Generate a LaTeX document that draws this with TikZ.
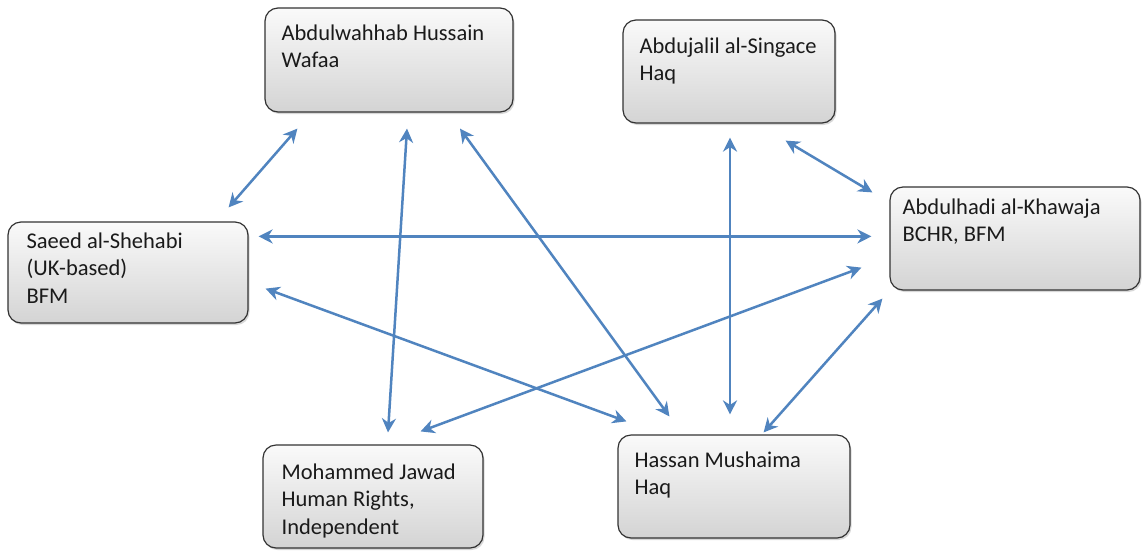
\documentclass[tikz,border=0pt]{standalone}
\usepackage{fontspec}
\setmainfont{Carlito}
\usetikzlibrary{arrows.meta,shadows}
\definecolor{arrowblue}{HTML}{5084BF}
\definecolor{txtcol}{HTML}{1A1A1A}
\begin{document}
\begin{tikzpicture}[x=1pt,y=-1pt,
  person/.style={draw=black!80, line width=1.2pt, rounded corners=13pt,
    top color=black!2, bottom color=black!17, inner sep=0pt,
    drop shadow={shadow xshift=1.5pt, shadow yshift=-2pt, opacity=0.3}},
  ptext/.style={anchor=north west, inner sep=0pt, align=left, text=txtcol,
    font=\fontsize{22.5pt}{27.5pt}\selectfont},
  link/.style={draw=arrowblue, line width=2.5pt,
    {Stealth[length=14pt,width=14pt,inset=4.5pt]}-{Stealth[length=14pt,width=14pt,inset=4.5pt]}}
]
\useasboundingbox (0,0) rectangle (1142,550);
\fill[white] (0,0) rectangle (1142,550);

% boxes
\node[person, minimum width=248pt, minimum height=104pt] (wafaa) at (389,60) {};
\node[person, minimum width=212pt, minimum height=103pt] (haq) at (729,71.5) {};
\node[person, minimum width=240pt, minimum height=101pt] (shehabi) at (128,272.5) {};
\node[person, minimum width=250pt, minimum height=103pt] (khawaja) at (1015,238.5) {};
\node[person, minimum width=220pt, minimum height=103pt] (jawad) at (373,496.5) {};
\node[person, minimum width=232pt, minimum height=103pt] (mushaima) at (734,486.5) {};

% texts
\node[ptext] (wafaaT) at ([shift={(17,17)}]wafaa.north west) {Abdulwahhab Hussain\\Wafaa};
\node[ptext] (haqT) at ([shift={(17,18)}]haq.north west) {Abdujalil al-Singace\\Haq};
\node[ptext] (shehabiT) at ([shift={(19,11)}]shehabi.north west) {Saeed al-Shehabi\\(UK-based)\\BFM};
\node[ptext] (khawajaT) at ([shift={(13,12)}]khawaja.north west) {Abdulhadi al-Khawaja\\BCHR, BFM};
\node[ptext] (jawadT) at ([shift={(19,19)}]jawad.north west) {Mohammed Jawad\\Human Rights,\\Independent};
\node[ptext] (mushaimaT) at ([shift={(17,17)}]mushaima.north west) {Hassan Mushaima\\Haq};

% connectors
\draw[link] ([shift={(33,16)}]wafaa.south west) -- ([shift={(-20,-14)}]shehabi.north east);
\draw[link] ([shift={(18,16)}]wafaa.south) -- ([shift={(15,-12)}]jawad.north);
\draw[link] ([shift={(71,16)}]wafaa.south) -- ([shift={(52,-18)}]mushaima.north west);
\draw[link] ([shift={(1,14)}]haq.south) -- ([shift={(-4,-20)}]mushaima.north);
\draw[link] ([shift={(-50,17)}]haq.south east) -- ([shift={(-17,6)}]khawaja.north west);
\draw[link] ([shift={(10,15)}]shehabi.north east) -- ([shift={(-18,50)}]khawaja.north west);
\draw[link] ([shift={(17,-35)}]shehabi.south east) -- ([shift={(9,-13)}]mushaima.north west);
\draw[link] ([shift={(-28,-23)}]khawaja.south west) -- ([shift={(-63,-13)}]jawad.north east);
\draw[link] ([shift={(-7,8)}]khawaja.south west) -- ([shift={(-87,-2)}]mushaima.north east);
\end{tikzpicture}
\end{document}
